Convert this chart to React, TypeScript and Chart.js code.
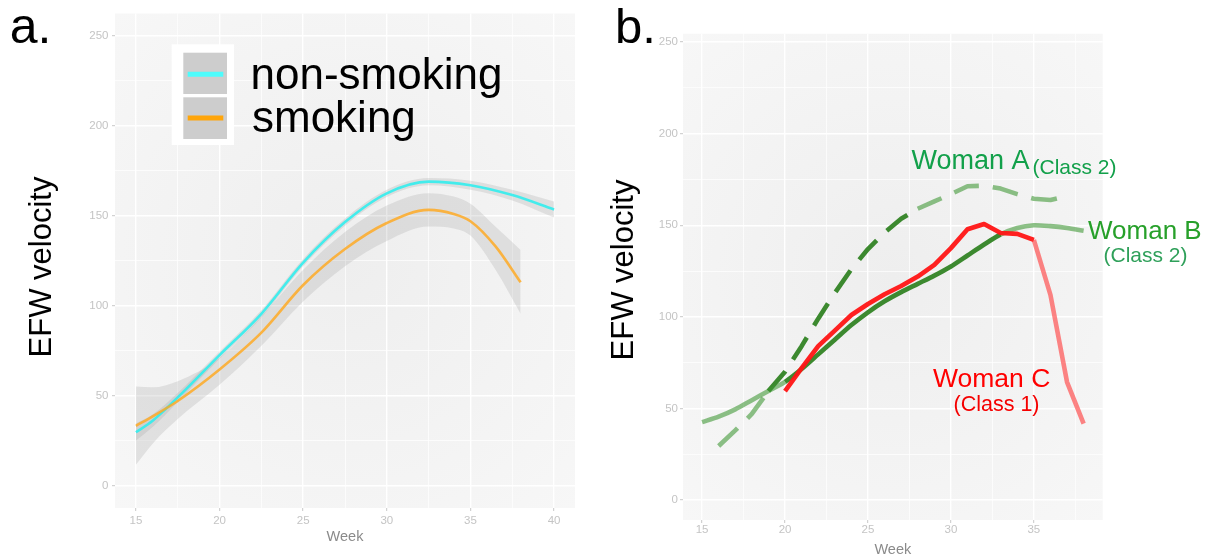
import { useEffect, useRef } from 'react';
import { Chart, registerables } from 'chart.js';
Chart.register(...registerables);
Chart.defaults.font.family = '"Liberation Sans", Arial, Helvetica, sans-serif';

// ---------- Panel a data ----------
const weeksNonSmoking = [15, 16, 17.5, 20, 22.5, 25, 27.5, 30, 32.5, 35, 37.5, 40];
const nonSmoking = [29.6, 36, 49, 72.5, 95.5, 124, 146.5, 162.5, 169, 167, 161.5, 153.5];
const nonSmokingUpper = [34.5, 39.5, 51.5, 74.5, 97.5, 126, 148.5, 164.5, 171, 169.5, 164.5, 158];
const nonSmokingLower = [25, 32.5, 46.5, 70.5, 93.5, 122, 144.5, 160.5, 167, 164.5, 158.5, 149];

const weeksSmoking = [15, 16, 17.5, 20, 22.5, 25, 27.5, 30, 32.5, 34, 35, 36.5, 38];
const smoking = [33.2, 38.5, 47, 64.5, 85, 111.5, 131.5, 146, 153.3, 151, 147, 133, 113];
const smokingUpper = [55, 54.6, 58, 71, 94, 120, 141, 155.7, 162.6, 160.7, 156.7, 143.9, 131];
const smokingLower = [11.5, 23.3, 37, 56, 77.7, 102.4, 122, 136, 144, 143, 139, 120, 95.5];

const legendLabels = ['non-smoking', 'smoking'];

// ---------- Panel b data ----------
const weeksA = [16, 17, 18, 19, 20, 21, 22, 23, 24, 25, 26, 27, 28, 29, 30, 31, 32, 33, 34, 35, 36, 37];
const womanA = [29.5, 38, 47, 59.5, 70, 84, 99, 113, 126, 137, 146, 153.5, 159, 163, 167, 171.3, 171.6, 170, 167, 164.5, 163.8, 166];
const weeksB = [15, 16, 17, 18, 19, 20, 21, 22, 23, 24, 25, 26, 27, 28, 29, 30, 31, 32, 33, 34, 35, 36, 37, 38];
const womanB = [42.5, 45.5, 49.5, 54.5, 59.5, 64.5, 71.5, 79.5, 87.5, 95.5, 102.5, 108.5, 113.5, 118, 122.5, 127.5, 133.5, 139.5, 145, 148.5, 150, 149.5, 148.5, 147];
const weeksC = [20, 21, 22, 23, 24, 25, 26, 27, 28, 29, 30, 31, 32, 33, 34, 35, 36, 37, 38];
const womanC = [59.5, 72, 84, 92.5, 101, 107, 112.3, 116.8, 122, 128.4, 137.5, 147.8, 150.7, 145.8, 145.3, 142, 112, 64.4, 41.7];

const xTicksA = [15, 17.5, 20, 22.5, 25, 27.5, 30, 32.5, 35, 37.5, 40];
const xTicksB = [15, 17.5, 20, 22.5, 25, 27.5, 30, 32.5, 35, 37.5];
const yTicks = [0, 25, 50, 75, 100, 125, 150, 175, 200, 225, 250];

const pts = (xs: number[], ys: number[]) => xs.map((x, i) => ({ x, y: ys[i] }));

const TICK_COLOR = '#c4c4c4';

function axis(ticks: number[], majorStep: number, min: number, max: number, extra: any) {
  const isMajor = (v: number) => Math.abs(v / majorStep - Math.round(v / majorStep)) < 1e-6;
  return {
    type: 'linear',
    min,
    max,
    afterBuildTicks: (scale: any) => {
      scale.ticks = ticks.map((v) => ({ value: v }));
    },
    ticks: {
      autoSkip: false,
      maxRotation: 0,
      color: TICK_COLOR,
      font: { size: 11.5 },
      callback: (v: any) => (isMajor(Number(v)) ? String(v) : ''),
      ...(extra.ticks || {}),
    },
    grid: {
      color: '#ffffff',
      lineWidth: (ctx: any) => (ctx.tick && isMajor(ctx.tick.value) ? 1.4 : 0.7),
      tickColor: (ctx: any) => (ctx.tick && isMajor(ctx.tick.value) ? '#c8c8c8' : 'rgba(0,0,0,0)'),
      tickLength: 3,
      tickWidth: 1,
    },
    border: { display: false },
    ...(extra.rest || {}),
  };
}

const bgPlugin = {
  id: 'panelBg',
  beforeDraw(chart: any) {
    const { ctx, chartArea } = chart;
    const { left, top, right, bottom } = chartArea;
    const cx = (left + right) / 2;
    const cy = (top + bottom) / 2;
    const r = Math.hypot(right - left, bottom - top) / 2;
    const g = ctx.createRadialGradient(cx, cy, 0, cx, cy, r);
    g.addColorStop(0, '#eeeeee');
    g.addColorStop(1, '#f7f7f7');
    ctx.save();
    ctx.fillStyle = g;
    ctx.fillRect(left, top, right - left, bottom - top);
    ctx.restore();
  },
};

function text(ctx: any, s: string, x: number, y: number, size: number, color: string) {
  ctx.font = `${size}px "Liberation Sans", Arial, sans-serif`;
  ctx.fillStyle = color;
  ctx.textAlign = 'left';
  ctx.textBaseline = 'alphabetic';
  ctx.fillText(s, x, y);
}

function yTitle(ctx: any, s: string, x: number, y: number, size: number) {
  ctx.save();
  ctx.translate(x, y);
  ctx.rotate(-Math.PI / 2);
  ctx.font = `${size}px "Liberation Sans", Arial, sans-serif`;
  ctx.fillStyle = '#000';
  ctx.textAlign = 'center';
  ctx.textBaseline = 'alphabetic';
  ctx.fillText(s, 0, 0);
  ctx.restore();
}

const annotA = {
  id: 'annotA',
  afterDraw(chart: any) {
    const ctx = chart.ctx;
    ctx.save();
    text(ctx, 'a.', 9.7, 42.7, 50, '#000');
    yTitle(ctx, 'EFW velocity', 51, 267, 31);
    // legend
    ctx.fillStyle = '#ffffff';
    ctx.fillRect(171.7, 44.3, 62.3, 100.7);
    ctx.fillStyle = '#cdcdcd';
    ctx.fillRect(183.3, 52.7, 43.7, 41.3);
    ctx.fillRect(183.3, 97.3, 43.7, 41.7);
    ctx.lineWidth = 5;
    ctx.lineCap = 'butt';
    ctx.strokeStyle = '#4dfcfc';
    ctx.beginPath();
    ctx.moveTo(187.7, 74.3);
    ctx.lineTo(223.3, 74.3);
    ctx.stroke();
    ctx.strokeStyle = '#ffa50a';
    ctx.beginPath();
    ctx.moveTo(187.7, 118);
    ctx.lineTo(223.3, 118);
    ctx.stroke();
    text(ctx, legendLabels[0], 250.5, 89, 44, '#000');
    text(ctx, legendLabels[1], 252, 132.4, 44, '#000');
    ctx.restore();
  },
};

const annotB = {
  id: 'annotB',
  afterDraw(chart: any) {
    const ctx = chart.ctx;
    ctx.save();
    text(ctx, 'b.', 15, 42.6, 49, '#000');
    yTitle(ctx, 'EFW velocity', 33, 270, 31);
    text(ctx, 'Woman A', 311.5, 169.3, 27, '#12a04a');
    text(ctx, '(Class 2)', 432.5, 173.8, 21, '#12a04a');
    text(ctx, 'Woman B', 488, 238.5, 26, '#27a02a');
    text(ctx, '(Class 2)', 503.5, 262.3, 21, '#2fa05a');
    text(ctx, 'Woman C', 333, 387, 26.5, '#ff0000');
    text(ctx, '(Class 1)', 353.5, 411.4, 21.5, '#f50000');
    ctx.restore();
  },
};

const bandFill = 'rgba(150,150,150,0.22)';

function configA(): any {
  return {
    type: 'line',
    data: {
      datasets: [
        { data: pts(weeksSmoking, smoking), borderColor: 'rgba(255,168,30,0.82)', borderWidth: 2.6, pointRadius: 0, fill: false, cubicInterpolationMode: 'monotone' },
        { data: pts(weeksNonSmoking, nonSmoking), borderColor: 'rgba(40,238,238,0.85)', borderWidth: 2.6, pointRadius: 0, fill: false, cubicInterpolationMode: 'monotone' },
        { data: pts(weeksNonSmoking, nonSmokingUpper), borderWidth: 0, pointRadius: 0, fill: '+1', backgroundColor: bandFill, cubicInterpolationMode: 'monotone' },
        { data: pts(weeksNonSmoking, nonSmokingLower), borderWidth: 0, pointRadius: 0, fill: false, cubicInterpolationMode: 'monotone' },
        { data: pts(weeksSmoking, smokingUpper), borderWidth: 0, pointRadius: 0, fill: '+1', backgroundColor: bandFill, cubicInterpolationMode: 'monotone' },
        { data: pts(weeksSmoking, smokingLower), borderWidth: 0, pointRadius: 0, fill: false, cubicInterpolationMode: 'monotone' },
      ],
    },
    options: {
      animation: false,
      responsive: false,
      events: [],
      layout: { padding: { left: 0, top: 13.5, right: 25, bottom: 0 } },
      plugins: { legend: { display: false }, tooltip: { enabled: false } },
      scales: {
        x: axis(xTicksA, 5, 13.75, 41.25, {
          ticks: { padding: 3 },
          rest: {
            afterFit: (s: any) => { s.height = 49; },
            title: { display: true, text: 'Week', color: '#8a8a8a', font: { size: 14.5 }, padding: { top: 0, bottom: 11.6 } },
          },
        }),
        y: axis(yTicks, 50, -12.5, 262.5, {
          ticks: { padding: 3.5 },
          rest: { afterFit: (s: any) => { s.width = 115; } },
        }),
      },
    },
    plugins: [bgPlugin, annotA],
  };
}

const inRange = (v: number, a: number, b: number) => v >= a && v < b;

function configB(): any {
  const dark = 'rgba(45,128,30,0.92)';
  const light = 'rgba(60,150,50,0.58)';
  return {
    type: 'line',
    data: {
      datasets: [
        {
          data: pts(weeksC, womanC), borderWidth: 4.6, pointRadius: 0, fill: false, borderCapStyle: 'butt', borderJoinStyle: 'round',
          borderColor: '#ff1a1a',
          segment: { borderColor: (c: any) => (inRange(c.p0.parsed.x, 20, 35) ? 'rgba(255,20,20,0.95)' : 'rgba(255,60,60,0.62)') },
        },
        {
          data: pts(weeksB, womanB), borderWidth: 4.6, pointRadius: 0, fill: false, borderCapStyle: 'butt', borderJoinStyle: 'round', tension: 0.25,
          borderColor: dark,
          segment: { borderColor: (c: any) => (inRange(c.p0.parsed.x, 20, 33) ? dark : light) },
        },
        {
          data: pts(weeksA, womanA), borderWidth: 4.6, pointRadius: 0, fill: false, borderCapStyle: 'butt', borderJoinStyle: 'round',
          borderColor: dark, borderDash: [26, 14],
          segment: { borderColor: (c: any) => (inRange(c.p0.parsed.x, 19, 27.5) ? dark : light) },
        },
      ],
    },
    options: {
      animation: false,
      responsive: false,
      events: [],
      layout: { padding: { left: 0, top: 33.8, right: 105.3, bottom: 0 } },
      plugins: { legend: { display: false }, tooltip: { enabled: false } },
      scales: {
        x: axis(xTicksB, 5, 13.85, 39.15, {
          ticks: { padding: 0 },
          rest: {
            afterFit: (s: any) => { s.height = 37; },
            title: { display: true, text: 'Week', color: '#8a8a8a', font: { size: 14.5 }, padding: { top: 0, bottom: -1.7 } },
          },
        }),
        y: axis(yTicks, 50, -10.9, 254.5, {
          ticks: { padding: 2 },
          rest: { afterFit: (s: any) => { s.width = 83; } },
        }),
      },
    },
    plugins: [bgPlugin, annotB],
  };
}

function Panel({ make, left, width }: { make: () => any; left: number; width: number }) {
  const ref = useRef<HTMLCanvasElement>(null);
  useEffect(() => {
    const chart = new Chart(ref.current as HTMLCanvasElement, make());
    return () => chart.destroy();
  }, []);
  return (
    <div style={{ position: 'absolute', left, top: 0, width, height: 557 }}>
      <canvas ref={ref} width={width} height={557} style={{ width, height: 557, display: 'block' }} />
    </div>
  );
}

export default function App() {
  return (
    <div style={{ position: 'fixed', left: 0, top: 0, width: 1208, height: 557, overflow: 'hidden', background: '#ffffff' }}>
      <Panel make={configA} left={0} width={600} />
      <Panel make={configB} left={600} width={608} />
    </div>
  );
}
